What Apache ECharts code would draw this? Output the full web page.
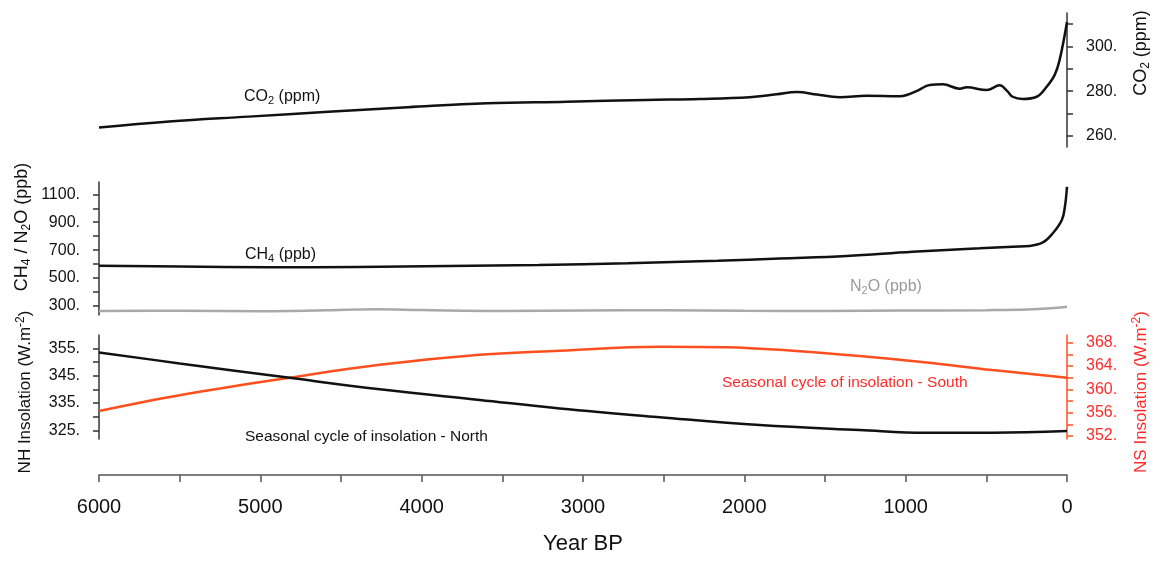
<!DOCTYPE html>
<html>
<head>
<meta charset="utf-8">
<script src="https://cdn.jsdelivr.net/npm/echarts@6/dist/echarts.min.js"></script>
<style>
  html, body { margin: 0; padding: 0; background: #ffffff; }
  #chart { width: 1160px; height: 561px; }
</style>
</head>
<body>
<div id="chart"></div>
<script>
// Greenhouse gases and seasonal insolation over the last 6000 years (Year BP)

// CO2 (ppm)
const co2Years = [6000, 5565, 5072, 4579, 4087, 3597, 3101, 2611, 2277, 1967, 1800, 1675, 1550, 1452, 1409, 1242, 1037, 993, 920, 851, 770, 665, 622, 498, 417, 370, 337, 275, 188, 126, 77, 46, 0];
const co2Ppm   = [263.7, 266.4, 268.6, 270.8, 272.8, 274.6, 275.3, 276.1, 276.5, 277.3, 278.6, 279.6, 278.5, 277.5, 277.3, 278.0, 277.7, 278.3, 280.5, 282.8, 283.1, 281.1, 281.7, 280.5, 282.6, 280.0, 277.5, 276.5, 277.5, 282.0, 287.2, 293.9, 311.0];

// CH4 (ppb)
const ch4Years = [6000, 5500, 4945, 4400, 3833, 3275, 2723, 2165, 1781, 1366, 957, 541, 337, 231, 150, 88, 32, 13, 0];
const ch4Ppb   = [589, 582, 577, 580, 586, 594, 606, 624, 640, 658, 689, 713, 725, 730, 755, 821, 916, 1011, 1154];

// N2O (ppb)
const n2oYears = [6000, 5500, 5000, 4600, 4280, 4000, 3500, 3000, 2500, 2000, 1500, 1000, 500, 250, 100, 0];
const n2oPpb   = [264, 266, 263, 269, 276, 271, 265, 268, 270, 266, 264, 267, 270, 274, 283, 295];

// Seasonal cycle of insolation, north (W.m-2)
const nhYears = [6000, 5500, 4818, 4260, 3640, 3144, 2524, 1905, 1286, 871, 462, 0];
const nhWm2   = [353.5, 349.5, 344.2, 340.0, 336.1, 333.0, 329.8, 326.9, 325.1, 324.1, 324.1, 324.7];

// Seasonal cycle of insolation, south (W.m-2)
const nsYears = [6000, 5500, 4818, 4260, 3640, 3144, 2524, 2109, 1700, 1286, 871, 462, 0];
const nsWm2   = [356.3, 359.0, 362.0, 364.2, 365.9, 366.6, 367.3, 367.2, 366.6, 365.7, 364.6, 363.3, 362.0];

// Axis ticks and labels
const yearTicks  = [0, 500, 1000, 1500, 2000, 2500, 3000, 3500, 4000, 4500, 5000, 5500, 6000];
const yearLabels = [0, 1000, 2000, 3000, 4000, 5000, 6000];
const co2Ticks   = [260, 270, 280, 290, 300, 310];
const co2Labels  = [260, 280, 300];
const gasTicks   = [300, 400, 500, 600, 700, 800, 900, 1000, 1100];
const gasLabels  = [300, 500, 700, 900, 1100];
const nhTicks    = [325, 330, 335, 340, 345, 350, 355];
const nhLabels   = [325, 335, 345, 355];
const nsTicks    = [352, 354, 356, 358, 360, 362, 364, 366, 368];
const nsLabels   = [352, 356, 360, 364, 368];

const FONT = '"Liberation Sans", Arial, Helvetica, sans-serif';
const INK = '#111111';
const AXIS = '#333333';
const RED_LINE = '#ff4f1f';
const RED_TEXT = '#ff2b2b';
const GREY = '#a9a9a9';

const pairs = (xs, ys) => xs.map((x, i) => [x, ys[i]]);

function rich(size, color) {
  return {
    n: { fontSize: size, fontFamily: FONT, fill: color, color: color },
    s: { fontSize: Math.round(size * 0.68), fontFamily: FONT, fill: color, color: color, padding: [Math.round(size * 0.5), 0, 0, 0] },
    p: { fontSize: Math.round(size * 0.68), fontFamily: FONT, fill: color, color: color, padding: [0, 0, Math.round(size * 0.5), 0] }
  };
}

function label(x, y, text, size, color, rotate, align) {
  return {
    type: 'text',
    x: x, y: y,
    rotation: rotate ? Math.PI / 2 : 0,
    silent: true,
    style: {
      text: text,
      rich: rich(size, color),
      fill: color,
      font: size + 'px ' + FONT,
      align: align || 'left',
      textAlign: align || 'left',
      verticalAlign: 'middle',
      textVerticalAlign: 'middle'
    }
  };
}

function hiddenX(gridIndex) {
  return { type: 'value', gridIndex, min: 0, max: 6000, inverse: true, show: false };
}

function yAxisDef(gridIndex, position, min, max, ticks, labels, lineColor, textColor) {
  return {
    type: 'value', gridIndex, position, min, max,
    splitLine: { show: false },
    axisLine: { show: true, onZero: false, lineStyle: { color: lineColor, width: 1.5 } },
    axisTick: { show: true, inside: false, length: 6, customValues: ticks, lineStyle: { color: lineColor, width: 1.5 } },
    axisLabel: {
      show: true, customValues: labels, margin: 19,
      formatter: v => v + '.',
      color: textColor, fontSize: 16, fontFamily: FONT
    }
  };
}

const line = (xi, yi, data, color, width) => ({
  type: 'line', xAxisIndex: xi, yAxisIndex: yi, data,
  showSymbol: false, symbol: 'none', smooth: 0.4,
  lineStyle: { color, width }, silent: true, z: 3
});

const chart = echarts.init(document.getElementById('chart'), null, { renderer: 'canvas' });

chart.setOption({
  animation: false,
  backgroundColor: '#ffffff',
  grid: [
    { left: 99, right: 93, top: 13, height: 134 },
    { left: 99, right: 93, top: 182, height: 133 },
    { left: 99, right: 93, top: 335, height: 104 }
  ],
  xAxis: [
    hiddenX(0),
    hiddenX(1),
    {
      type: 'value', gridIndex: 2, min: 0, max: 6000, inverse: true, position: 'bottom', offset: 36,
      splitLine: { show: false },
      axisLine: { show: true, onZero: false, lineStyle: { color: '#555555', width: 1.5 } },
      axisTick: { show: true, length: 7, customValues: yearTicks, lineStyle: { color: '#555555', width: 1.5 } },
      axisLabel: { customValues: yearLabels, margin: 22, color: INK, fontSize: 20, fontFamily: FONT, formatter: v => String(v) },
      name: 'Year BP', nameLocation: 'middle', nameGap: 58,
      nameTextStyle: { color: INK, fontSize: 22, fontFamily: FONT }
    }
  ],
  yAxis: [
    yAxisDef(0, 'right', 255, 315, co2Ticks, co2Labels, AXIS, INK),
    yAxisDef(1, 'left', 235.5, 1188, gasTicks, gasLabels, AXIS, INK),
    yAxisDef(2, 'left', 321.8, 359.9, nhTicks, nhLabels, AXIS, INK),
    yAxisDef(2, 'right', 351.5, 369.3, nsTicks, nsLabels, RED_LINE, RED_TEXT)
  ],
  series: [
    line(0, 0, pairs(co2Years, co2Ppm), INK, 2.5),
    line(1, 1, pairs(n2oYears, n2oPpb), GREY, 2.5),
    line(1, 1, pairs(ch4Years, ch4Ppb), INK, 2.5),
    line(2, 3, pairs(nsYears, nsWm2), RED_LINE, 2.5),
    line(2, 2, pairs(nhYears, nhWm2), INK, 2.5)
  ],
  graphic: [
    // series annotations
    label(244, 97, '{n|CO}{s|2}{n| (ppm)}', 16, INK),
    label(245, 255, '{n|CH}{s|4}{n| (ppb)}', 16, INK),
    label(850, 287, '{n|N}{s|2}{n|O (ppb)}', 16, '#9a9a9a'),
    label(722, 383, '{n|Seasonal cycle of insolation - South}', 15.5, RED_TEXT),
    label(245, 437, '{n|Seasonal cycle of insolation - North}', 15.5, INK),
    // axis titles
    label(1141, 53, '{n|CO}{s|2}{n| (ppm)}', 18, INK, true, 'center'),
    label(22, 227, '{n|CH}{s|4}{n| / N}{s|2}{n|O (ppb)}', 18, INK, true, 'center'),
    label(25, 392, '{n|NH Insolation (W.m}{p|-2}{n|)}', 17, INK, true, 'center'),
    label(1141, 392, '{n|NS Insolation (W.m}{p|-2}{n|)}', 17, RED_TEXT, true, 'center')
  ]
});
</script>
</body>
</html>
